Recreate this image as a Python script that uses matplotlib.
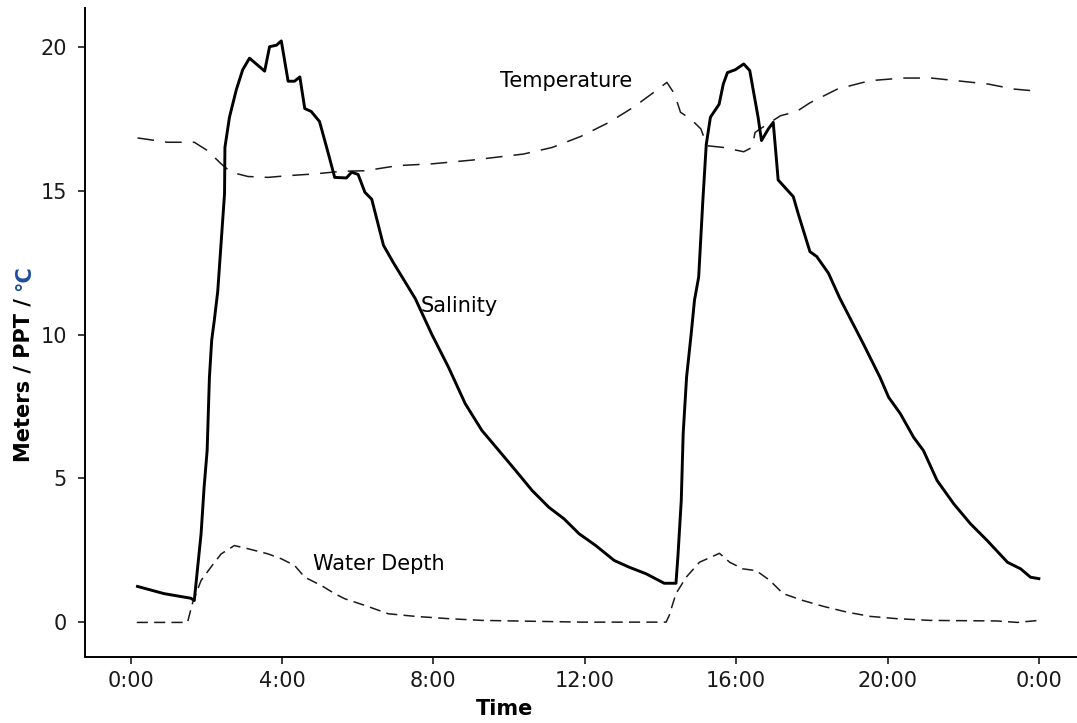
import matplotlib
matplotlib.use("Agg")
import matplotlib.pyplot as plt

# -------------------------------------------------
# Data (hours since midnight)
# -------------------------------------------------

sal_t = [0.18, 0.88, 1.59, 1.68, 1.77, 1.86, 1.94, 2.02, 2.08, 2.14,
         2.21, 2.30, 2.39, 2.48, 2.49, 2.61, 2.79, 2.96, 3.14, 3.54,
         3.67, 3.85, 3.98, 4.16, 4.33, 4.47, 4.60, 4.77, 4.99, 5.22,
         5.39, 5.70, 5.84, 6.01, 6.19, 6.37, 6.68, 6.94, 7.52, 7.96,
         8.40, 8.84, 9.28, 9.73, 10.17, 10.61, 11.05, 11.45, 11.85, 12.29,
         12.78, 13.17, 13.62, 14.10, 14.41, 14.46, 14.55, 14.60, 14.69, 14.81,
         14.90, 15.01, 15.12, 15.21, 15.32, 15.55, 15.66, 15.77, 15.98, 16.20,
         16.36, 16.47, 16.58, 16.67, 16.85, 16.98, 17.07, 17.11, 17.51, 17.64,
         17.95, 18.13, 18.44, 18.74, 19.36, 19.80, 20.03, 20.34, 20.69, 20.95,
         21.31, 21.75, 22.19, 22.63, 23.17, 23.52, 23.78, 24.00]
sal_v = [1.25, 1.00, 0.84, 0.76, 1.92, 3.08, 4.70, 5.97, 8.50, 9.80,
         10.50, 11.50, 13.20, 14.90, 16.50, 17.55, 18.50, 19.20, 19.60, 19.15,
         20.00, 20.05, 20.20, 18.80, 18.80, 18.95, 17.85, 17.75, 17.40, 16.30,
         15.46, 15.44, 15.64, 15.56, 14.94, 14.70, 13.10, 12.50, 11.25, 10.00,
         8.86, 7.60, 6.67, 5.97, 5.28, 4.58, 4.00, 3.60, 3.08, 2.67,
         2.15, 1.92, 1.69, 1.36, 1.36, 2.27, 4.24, 6.55, 8.52, 10.00,
         11.20, 12.00, 14.65, 16.60, 17.55, 18.00, 18.70, 19.10, 19.20, 19.40,
         19.17, 18.36, 17.55, 16.74, 17.14, 17.37, 16.00, 15.37, 14.79, 14.20,
         12.88, 12.71, 12.13, 11.26, 9.68, 8.52, 7.82, 7.25, 6.43, 5.97,
         4.93, 4.12, 3.43, 2.85, 2.09, 1.86, 1.57, 1.52]

tmp_t = [0.18, 0.97, 1.68, 2.03, 2.39, 2.65, 3.10, 3.63, 4.16, 4.86,
         5.57, 6.19, 7.07, 7.96, 9.02, 10.38, 11.14, 11.89, 12.64, 13.29,
         13.83, 14.17, 14.37, 14.53, 14.80, 15.07, 15.23, 15.66, 16.20, 16.42,
         16.50, 16.63, 17.17, 17.60, 17.95, 18.68, 19.54, 20.41, 21.16, 21.81,
         22.67, 23.32, 24.00]
tmp_v = [16.83, 16.68, 16.68, 16.39, 15.93, 15.64, 15.49, 15.46, 15.52, 15.58,
         15.67, 15.69, 15.87, 15.93, 16.06, 16.27, 16.50, 16.88, 17.37, 17.90,
         18.42, 18.76, 18.36, 17.72, 17.49, 17.14, 16.56, 16.50, 16.35, 16.50,
         17.02, 17.14, 17.60, 17.75, 18.05, 18.53, 18.82, 18.91, 18.91, 18.82,
         18.70, 18.53, 18.45]

dep_t = [0.16, 1.50, 1.64, 1.86, 2.12, 2.39, 2.74, 3.10, 3.63, 3.98,
         4.33, 4.60, 5.04, 5.39, 5.66, 6.19, 6.81, 7.52, 8.40, 9.28,
         10.17, 11.94, 14.15, 14.23, 14.41, 14.68, 15.03, 15.56, 15.83, 16.18,
         16.53, 16.89, 17.24, 17.77, 18.30, 18.92, 19.54, 20.25, 21.13, 22.90,
         23.43, 24.00]
dep_v = [0.00, 0.00, 0.70, 1.46, 1.92, 2.38, 2.67, 2.56, 2.38, 2.21,
         1.98, 1.57, 1.28, 1.00, 0.82, 0.59, 0.30, 0.21, 0.13, 0.07,
         0.05, 0.01, 0.01, 0.24, 1.00, 1.57, 2.09, 2.40, 2.09, 1.86,
         1.80, 1.46, 1.00, 0.76, 0.56, 0.36, 0.21, 0.13, 0.07, 0.05,
         0.00, 0.07]

x_ticks = [0, 4, 8, 12, 16, 20, 24]
x_labels = ["0:00", "4:00", "8:00", "12:00", "16:00", "20:00", "0:00"]
y_ticks = [0, 5, 10, 15, 20]

# -------------------------------------------------
# Plot
# -------------------------------------------------

plt.rcParams['font.family'] = ['DejaVu Sans']
plt.rcParams['lines.scale_dashes'] = False

W, H = 1077, 723
fig = plt.figure(figsize=(W / 100, H / 100), dpi=100)
ax = fig.add_axes([85 / W, 1 - 657 / H, 1 - 85 / W, (657 - 8) / H])

ax.plot(tmp_t, tmp_v, color='#1a1a1a', lw=1.1, dashes=(12, 8))
ax.plot(dep_t, dep_v, color='#1a1a1a', lw=1.1, dashes=(8, 4.5))
ax.plot(sal_t, sal_v, color='black', lw=2.1, solid_joinstyle='round')

fs = 15
ax.text(11.5, 18.6, "Temperature", ha='center', va='baseline', fontsize=fs)
ax.text(8.69, 10.78, "Salinity", ha='center', va='baseline', fontsize=fs)
ax.text(6.55, 1.83, "Water Depth", ha='center', va='baseline', fontsize=fs)

ax.set_xlim(-(130.7 - 85) / 37.84, (W - 130.7) / 37.84)
ax.set_ylim(-(657.3 - 622.7) / 28.8, (622.7 - 8) / 28.8)
ax.set_xticks(x_ticks)
ax.set_xticklabels(x_labels)
ax.set_yticks(y_ticks)
ax.tick_params(axis='both', direction='out', length=5, width=1.2,
               labelsize=fs, colors='#1a1a1a')
ax.tick_params(axis='x', pad=5)
ax.tick_params(axis='y', pad=8)

ax.spines['top'].set_visible(False)
ax.spines['right'].set_visible(False)
for s in ('left', 'bottom'):
    ax.spines[s].set_linewidth(1.4)

fig.text(505 / W, 1 - 709 / H, "Time", ha='center', va='center',
         fontweight='bold', fontsize=fs)

# y label, with the degree sign part in blue
fig.canvas.draw()
t1 = fig.text(24 / W, 1 - 462 / H, "Meters / PPT / ", rotation=90,
              ha='center', va='bottom', fontweight='bold', fontsize=fs)
fig.canvas.draw()
bb = t1.get_window_extent()
fig.text(24 / W, bb.y1 / fig.bbox.height, "°C", rotation=90,
         ha='center', va='bottom', fontweight='bold', fontsize=fs,
         color='#1c4d9e')

fig.savefig("out.png", dpi=100)
